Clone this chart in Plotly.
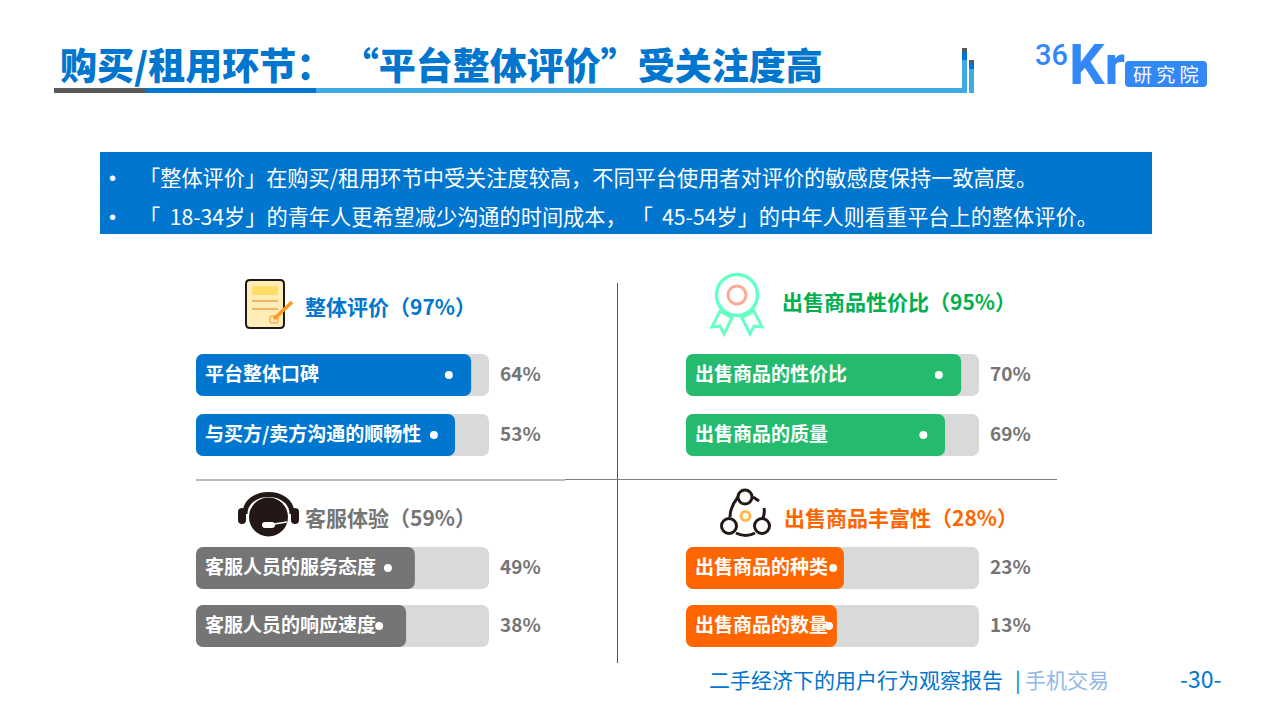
import plotly.graph_objects as go

CJK = "Noto Sans CJK SC"
BLUE, GREEN, GREY, ORANGE = "#0076CE", "#25BB6E", "#757575", "#FF6600"
TRACK = "#D9D9D9"
INK = "#231815"

# ---------- data ----------
eval_labels = ["平台整体口碑", "与买方/卖方沟通的顺畅性"]
eval_values = ["64%", "53%"]
eval_fill = [93.9, 88.4]
eval_dots = [86.3, 81.2]

price_labels = ["出售商品的性价比", "出售商品的质量"]
price_values = ["70%", "69%"]
price_fill = [93.9, 88.4]
price_dots = [86.3, 81.0]

service_labels = ["客服人员的服务态度", "客服人员的响应速度"]
service_values = ["49%", "38%"]
service_fill = [74.7, 71.7]
service_dots = [65.5, 62.5]

variety_labels = ["出售商品的种类", "出售商品的数量"]
variety_values = ["23%", "13%"]
variety_fill = [53.9, 51.5]
variety_dots = [50.2, 48.8]

track_full = 100
axis_max = 125
text_inset = 3.07
value_label_x = 110.6

headers = ["整体评价（97%）", "出售商品性价比（95%）", "客服体验（59%）", "出售商品丰富性（28%）"]
bullets = [
    "「整体评价」在购买/租用环节中受关注度较高，不同平台使用者对评价的敏感度保持一致高度。",
    "「  18-34岁」的青年人更希望减少沟通的时间成本， 「  45-54岁」的中年人则看重平台上的整体评价。",
]
title = "购买/租用环节：\u00a0“平台整体评价”受关注度高"
footer_report = "二手经济下的用户行为观察报告"
footer_topic = "手机交易"
page_number = "-30-"

panels = [
    (eval_labels, eval_values, eval_fill, eval_dots, BLUE, 196, (345, 465), 42 / 60),
    (price_labels, price_values, price_fill, price_dots, GREEN, 686, (345, 465), 42 / 60),
    (service_labels, service_values, service_fill, service_dots, GREY, 196, (539, 655), 42 / 58),
    (variety_labels, variety_values, variety_fill, variety_dots, ORANGE, 686, (539, 655), 42 / 58),
]
TRACK_PX = 293

fig = go.Figure()
layout_axes = {}
notes = []
for i, (labels, values, fill, dots, color, x0px, ypx, bw) in enumerate(panels, start=1):
    sfx = "" if i == 1 else str(i)
    xa, ya = "x" + sfx, "y" + sfx
    x1px = x0px + TRACK_PX * axis_max / track_full
    layout_axes["xaxis" + sfx] = dict(domain=[x0px / 1280, x1px / 1280], range=[0, axis_max], visible=False,
                                      anchor=ya, fixedrange=True)
    layout_axes["yaxis" + sfx] = dict(domain=[1 - ypx[1] / 720, 1 - ypx[0] / 720], type="category",
                                      categoryorder="array", categoryarray=labels, range=[1.5, -0.5],
                                      visible=False, anchor=xa, fixedrange=True)
    common = dict(xaxis=xa, yaxis=ya, showlegend=False, hoverinfo="skip")
    # an explicit base makes plotly round both ends of the bar
    fig.add_trace(go.Bar(y=labels, x=[track_full] * len(labels), base=[0] * len(labels), orientation="h",
                         width=bw, marker=dict(color=TRACK, line_width=0), **common))
    fig.add_trace(go.Bar(y=labels, x=fill, base=[0] * len(labels), orientation="h", width=bw,
                         marker=dict(color=color, line_width=0), **common))
    fig.add_trace(go.Scatter(y=labels, x=dots, mode="markers",
                             marker=dict(color="white", size=8, line_width=0), **common))
    for k, (lab, val) in enumerate(zip(labels, values)):
        notes.append(dict(xref=xa, yref=ya, x=text_inset, y=k, text=lab, showarrow=False, xanchor="left",
                          yanchor="middle", yshift=3, xshift=-1, borderpad=0,
                          font=dict(family=CJK, size=19, color="white", weight=700)))
        notes.append(dict(xref=xa, yref=ya, x=value_label_x, y=k, text=val, showarrow=False, xanchor="center",
                          yanchor="middle", yshift=3, borderpad=0,
                          font=dict(family=CJK, size=19, color=GREY, weight=700)))

# full-page decoration axes
layout_axes["xaxis5"] = dict(domain=[0, 1], range=[0, 1280], visible=False, anchor="y5", fixedrange=True)
layout_axes["yaxis5"] = dict(domain=[0, 1], range=[720, 0], visible=False, anchor="x5", fixedrange=True)
fig.add_trace(go.Scatter(x=[0], y=[0], xaxis="x5", yaxis="y5", mode="markers", marker=dict(size=1, opacity=0),
                         showlegend=False, hoverinfo="skip"))

shapes = []


def rect(x0, y0, x1, y1, color):
    shapes.append(dict(type="rect", xref="x5", yref="y5", x0=x0, y0=y0, x1=x1, y1=y1,
                       fillcolor=color, line_width=0))


def line(x0, y0, x1, y1, color, w=1):
    shapes.append(dict(type="line", xref="x5", yref="y5", x0=x0, y0=y0, x1=x1, y1=y1,
                       line=dict(color=color, width=w)))


def circle(cx, cy, r, fill=None, stroke=None, w=0):
    shapes.append(dict(type="circle", xref="x5", yref="y5", x0=cx - r, x1=cx + r, y0=cy - r, y1=cy + r,
                       fillcolor=fill or "rgba(0,0,0,0)",
                       line=dict(color=stroke or "rgba(0,0,0,0)", width=w)))


def path(d, fill=None, stroke=None, w=0):
    shapes.append(dict(type="path", xref="x5", yref="y5", path=d, fillcolor=fill or "rgba(0,0,0,0)",
                       line=dict(color=stroke or "rgba(0,0,0,0)", width=w)))


def rounded(x0, y0, x1, y1, r):
    return (f"M {x0+r} {y0} L {x1-r} {y0} Q {x1} {y0} {x1} {y0+r} L {x1} {y1-r} Q {x1} {y1} {x1-r} {y1} "
            f"L {x0+r} {y1} Q {x0} {y1} {x0} {y1-r} L {x0} {y0+r} Q {x0} {y0} {x0+r} {y0} Z")


def text(x, y, s, size, color, weight=400, anchor="left", family=CJK):
    notes.append(dict(xref="x5", yref="y5", x=x, y=y, text=s, showarrow=False, xanchor=anchor, yanchor="middle",
                      borderpad=0, font=dict(family=family, size=size, color=color, weight=weight)))


# title + underline
text(59, 64, title, 37, BLUE, 900)
rect(54, 88, 146, 93, "#595959")
rect(146, 88, 316, 93, BLUE)
rect(316, 88, 967, 93, "#41A9E5")
rect(962, 60, 967, 93, "#41A9E5")
rect(962, 52, 967, 60, BLUE)
rect(962, 48, 967, 52, "#595959")
rect(969, 69, 974, 93, "#41A9E5")
rect(969, 63, 974, 69, BLUE)
rect(969, 60, 974, 63, "#595959")

# logo
LOGO = "#3388F8"
text(1034, 55, "36", 29, LOGO, 500, family="Roboto")
text(1068, 65, "Kr", 56, LOGO, 700, family="Roboto")
path(rounded(1125, 61, 1207, 87, 4), fill=LOGO)
text(1166, 73.5, "研 究 院", 19, "white", 400, "center")

# call-out box
rect(100, 152, 1152, 234, BLUE)
for yy, s in zip((176, 215), bullets):
    text(108, yy + 2, "•", 20, "white", family="Liberation Sans")
    text(138, yy, s, 21.2, "white")

# dividers
line(617.5, 283, 617.5, 663, "#595959", 1)
line(196, 480, 565, 480, "#A6A6A6", 1.5)
line(565, 479.5, 1057, 479.5, "#808080", 1)

# headers
text(304, 306, headers[0], 21, BLUE, 700)
text(781, 301, headers[1], 21, "#00B050", 700)
text(304, 517, headers[2], 21, GREY, 700)
text(783, 517, headers[3], 21, ORANGE, 700)

# icon: note + pencil
path(rounded(246, 280, 284, 328, 4), fill="#FFEDB8", stroke=INK, w=2)
path(rounded(252, 286, 278, 295, 3), fill="#FFDD66")
line(252, 301, 278, 301, "#F5B461", 2)
line(252, 309, 278, 309, "#F5B461", 2)
path(rounded(270, 316, 278, 323, 2), fill="#FFE3A8", stroke="#F5B461", w=1.5)
line(274, 319, 292, 302, "#FF9A1F", 3.5)

# icon: rosette
MINT = "#66FFC4"
for flip in (False, True):
    pts = [(720, 311), (732, 318), (724, 334), (720, 326), (712, 327)]
    if flip:
        pts = [(1474 - a, b) for a, b in pts]
    path("M " + " L ".join(f"{a} {b}" for a, b in pts) + " Z", fill="white", stroke=MINT, w=3)
circle(737, 295, 20.5, fill="white", stroke=MINT, w=3.5)
circle(737, 295, 9, fill="white", stroke="#FFAA99", w=3)

# icon: headset
path("M 245 514 C 245 488, 292 488, 292 514", stroke=INK, w=5)
path(rounded(238, 508, 246, 524, 4), fill=INK)
path(rounded(291, 508, 299, 524, 4), fill=INK)
circle(268.5, 517, 19.5, fill=INK)
line(268, 525, 287, 522, "white", 1.5)
path(rounded(262, 522, 275, 528, 3), fill="white")

# icon: three nodes
circle(745, 497, 7, stroke=INK, w=3)
circle(729, 526, 7.5, stroke=INK, w=3)
circle(762, 526, 7.5, stroke=INK, w=3)
circle(745.5, 516, 4.5, stroke="#FFB84D", w=3)
path("M 730 517 Q 730 507 738 497", stroke=INK, w=3)
path("M 764 508 Q 765 513 763 518", stroke=INK, w=3)
path("M 753 497 L 759 501", stroke=INK, w=3)
path("M 736 533 Q 746 538 755 533", stroke=INK, w=3)

# footer
text(708, 679, footer_report, 21, BLUE)
text(1014, 679, "|", 21, BLUE)
text(1024, 679, footer_topic, 21, "#8DB9E8")
text(1179, 678, page_number, 23, BLUE)

fig.update_layout(
    width=1280, height=720, margin=dict(l=0, r=0, t=0, b=0), autosize=False,
    paper_bgcolor="white", plot_bgcolor="rgba(0,0,0,0)",
    barmode="overlay", barcornerradius=7,
    shapes=shapes, annotations=notes, showlegend=False,
    font=dict(family=CJK),
    **layout_axes,
)

fig.write_html("out.html", config=dict(displayModeBar=False, responsive=False),
               post_script="document.body.style.margin='0';document.body.style.overflow='hidden';")
